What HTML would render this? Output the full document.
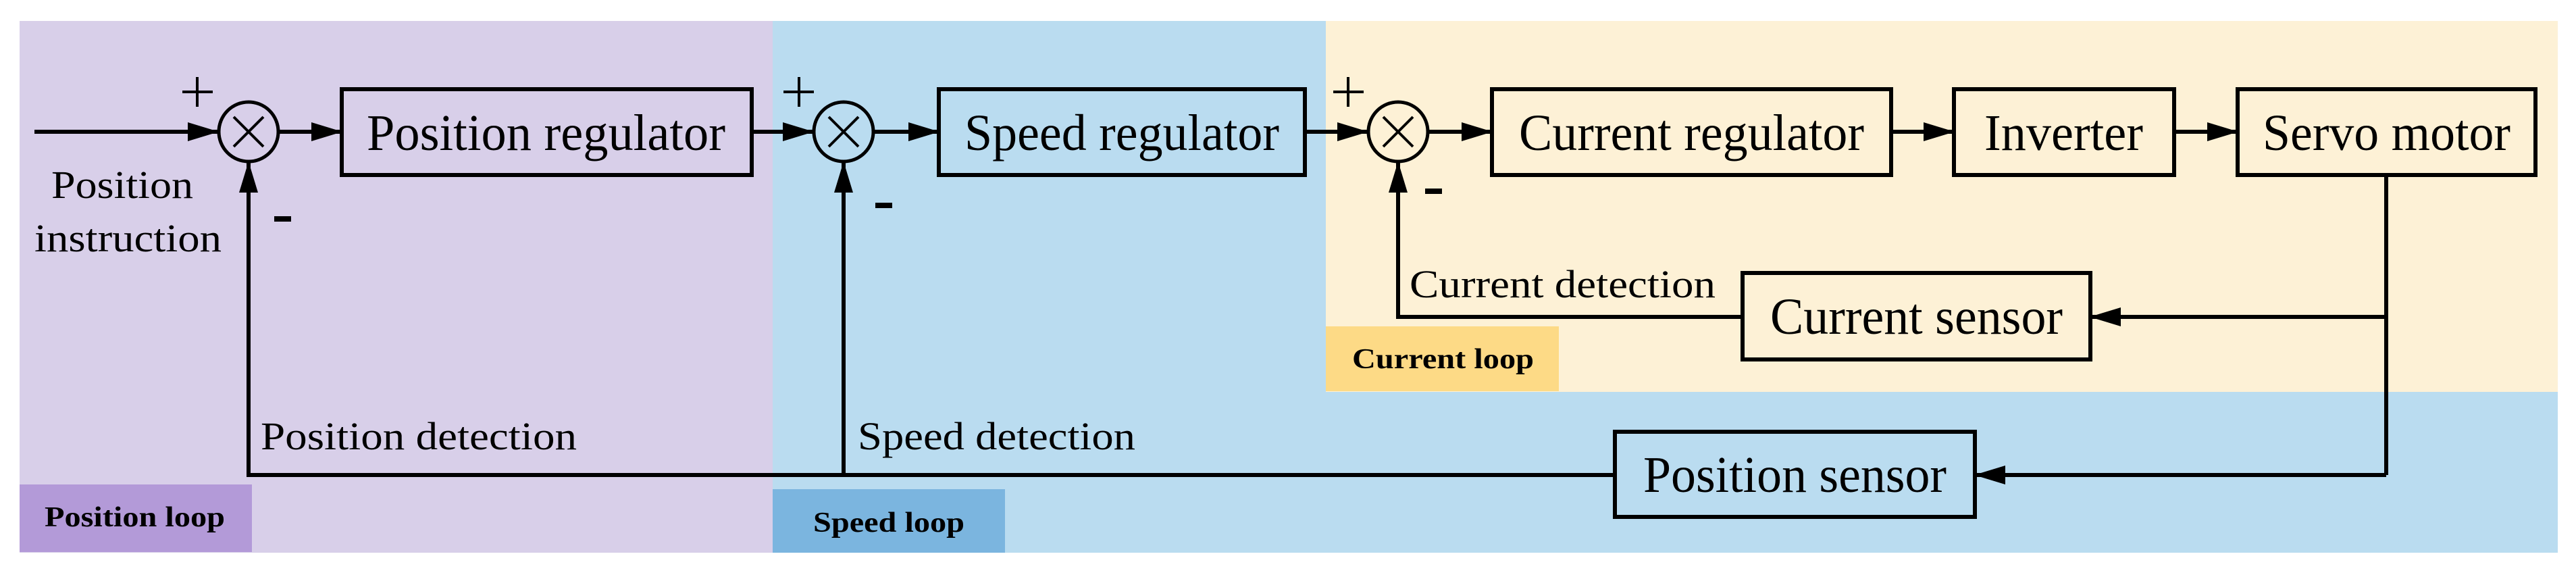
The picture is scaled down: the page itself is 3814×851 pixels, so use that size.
<!DOCTYPE html>
<html><head><meta charset="utf-8"><style>
html,body{margin:0;padding:0;background:#fff;}
svg{display:block;}
text{font-family:"Liberation Serif",serif;fill:#000;}
</style></head><body>
<svg width="3814" height="851" viewBox="0 0 3814 851" xmlns="http://www.w3.org/2000/svg">
<defs>
<marker id="ah" markerWidth="46" markerHeight="28" refX="45" refY="14" orient="auto" markerUnits="userSpaceOnUse">
<path d="M0,0 L46,14 L0,28 Z" fill="#000"/>
</marker>
</defs>
<!-- backgrounds -->
<rect x="29" y="31" width="1115" height="787" fill="#d8cfe9"/>
<rect x="1144" y="31" width="2643" height="787" fill="#badcf0"/>
<rect x="1963" y="31" width="1824" height="549" fill="#fdf1d6"/>
<rect x="29" y="717" width="344" height="100" fill="#b39ad8"/>
<rect x="1144" y="724" width="344" height="94" fill="#7bb5df"/>
<rect x="1963" y="483" width="345" height="96" fill="#fdda86"/>
<text x="66" y="779" font-size="42" font-weight="bold" textLength="267" lengthAdjust="spacingAndGlyphs">Position loop</text>
<text x="1204" y="787" font-size="42" font-weight="bold" textLength="224" lengthAdjust="spacingAndGlyphs">Speed loop</text>
<text x="2002" y="545" font-size="42" font-weight="bold" textLength="269" lengthAdjust="spacingAndGlyphs">Current loop</text>

<g fill="none" stroke="#000" stroke-width="6">
<!-- boxes -->
<rect x="506" y="132" width="607" height="127"/>
<rect x="1390" y="132" width="542" height="127"/>
<rect x="2209" y="132" width="591" height="127"/>
<rect x="2893" y="132" width="326" height="127"/>
<rect x="3313" y="132" width="441" height="127"/>
<rect x="2580" y="404" width="515" height="128"/>
<rect x="2391" y="639" width="533" height="126"/>
<!-- circles -->
<circle cx="368" cy="195" r="44" stroke-width="5"/>
<circle cx="1249" cy="195" r="44" stroke-width="5"/>
<circle cx="2070" cy="195" r="44" stroke-width="5"/>
</g>
<g stroke="#000" stroke-width="4">
<path d="M346,173 L390,217 M390,173 L346,217"/>
<path d="M1227,173 L1271,217 M1271,173 L1227,217"/>
<path d="M2048,173 L2092,217 M2092,173 L2048,217"/>
<!-- plus signs -->
<path d="M270,136 L315,136 M292,114 L292,158"/>
<path d="M1160,136 L1205,136 M1183,114 L1183,158"/>
<path d="M1974,136 L2019,136 M1996,114 L1996,158"/>
</g>
<!-- minus -->
<rect x="406" y="320" width="25" height="8" fill="#000"/>
<rect x="1296" y="300" width="25" height="8" fill="#000"/>
<rect x="2110" y="279" width="25" height="8" fill="#000"/>

<g fill="none" stroke="#000" stroke-width="6">
<line x1="51" y1="195" x2="323" y2="195" marker-end="url(#ah)"/>
<line x1="412" y1="195" x2="506" y2="195" marker-end="url(#ah)"/>
<line x1="1113" y1="195" x2="1204" y2="195" marker-end="url(#ah)"/>
<line x1="1294" y1="195" x2="1390" y2="195" marker-end="url(#ah)"/>
<line x1="1932" y1="195" x2="2025" y2="195" marker-end="url(#ah)"/>
<line x1="2115" y1="195" x2="2209" y2="195" marker-end="url(#ah)"/>
<line x1="2800" y1="195" x2="2893" y2="195" marker-end="url(#ah)"/>
<line x1="3219" y1="195" x2="3313" y2="195" marker-end="url(#ah)"/>
<!-- servo branch -->
<polyline points="3533,259 3533,703"/>
<line x1="3533" y1="469" x2="3095" y2="469" marker-end="url(#ah)"/>
<line x1="3533" y1="703" x2="2924" y2="703" marker-end="url(#ah)"/>
<!-- current feedback -->
<polyline points="2580,469 2070,469 2070,240" marker-end="url(#ah)"/>
<!-- position/speed feedback -->
<line x1="2391" y1="703" x2="365" y2="703"/>
<line x1="368" y1="706" x2="368" y2="240" marker-end="url(#ah)"/>
<line x1="1249" y1="706" x2="1249" y2="240" marker-end="url(#ah)"/>
</g>

<!-- box texts -->
<text x="543" y="222" font-size="76" textLength="531" lengthAdjust="spacingAndGlyphs">Position regulator</text>
<text x="1428" y="222" font-size="76" textLength="466" lengthAdjust="spacingAndGlyphs">Speed regulator</text>
<text x="2249" y="222" font-size="76" textLength="511" lengthAdjust="spacingAndGlyphs">Current regulator</text>
<text x="2938" y="222" font-size="76" textLength="235" lengthAdjust="spacingAndGlyphs">Inverter</text>
<text x="3350" y="222" font-size="76" textLength="367" lengthAdjust="spacingAndGlyphs">Servo motor</text>
<text x="2621" y="494" font-size="76" textLength="433" lengthAdjust="spacingAndGlyphs">Current sensor</text>
<text x="2433" y="728" font-size="76" textLength="449" lengthAdjust="spacingAndGlyphs">Position sensor</text>

<!-- labels -->
<text x="76" y="293" font-size="58" textLength="210" lengthAdjust="spacingAndGlyphs">Position</text>
<text x="51" y="372" font-size="58" textLength="277" lengthAdjust="spacingAndGlyphs">instruction</text>
<text x="386" y="665" font-size="58" textLength="468" lengthAdjust="spacingAndGlyphs">Position detection</text>
<text x="1270" y="665" font-size="58" textLength="411" lengthAdjust="spacingAndGlyphs">Speed detection</text>
<text x="2087" y="440" font-size="58" textLength="453" lengthAdjust="spacingAndGlyphs">Current detection</text>
</svg>
</body></html>
